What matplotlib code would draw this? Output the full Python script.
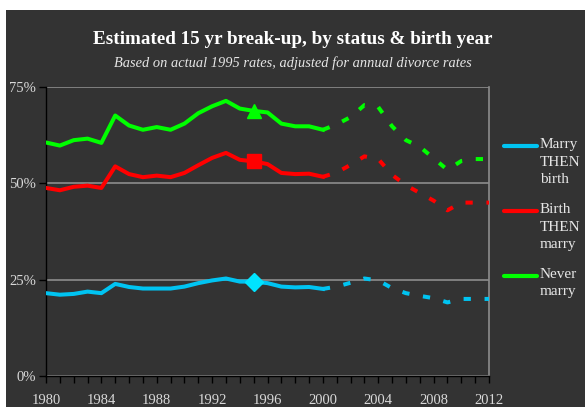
import matplotlib
matplotlib.use('Agg')
import matplotlib.pyplot as plt
from matplotlib.lines import Line2D
from matplotlib.patches import Rectangle
from matplotlib.ticker import MultipleLocator, FuncFormatter

# === Datos ===
years_actual = list(range(1980, 2001))
years_proj = list(range(2000, 2013))

marry_then_birth = [21.5, 21.1, 21.3, 21.9, 21.5, 23.9, 23.1, 22.7, 22.7, 22.7,
                    23.2, 24.1, 24.8, 25.3, 24.5, 24.5, 24.1, 23.2, 23.0, 23.1, 22.6]
birth_then_marry = [48.8, 48.2, 49.1, 49.4, 48.8, 54.4, 52.4, 51.6, 52.0, 51.6,
                    52.7, 54.7, 56.6, 57.9, 56.1, 55.7, 55.0, 52.7, 52.4, 52.5, 51.7]
never_marry = [60.6, 59.8, 61.2, 61.6, 60.5, 67.6, 65.0, 63.9, 64.6, 63.9,
               65.5, 68.2, 70.0, 71.4, 69.4, 68.8, 68.4, 65.5, 64.8, 64.8, 63.9]

marry_then_birth_proj = [22.6, 23.2, 24.2, 25.3, 24.8, 22.8, 21.5, 20.8, 20.2, 19.1, 20.0, 20.0, 20.0]
birth_then_marry_proj = [51.7, 52.8, 54.8, 57.0, 56.3, 52.2, 49.5, 47.5, 45.5, 43.0, 45.0, 45.0, 45.0]
never_marry_proj = [63.9, 65.3, 67.2, 70.3, 69.8, 64.8, 61.2, 59.5, 56.5, 53.5, 55.8, 56.3, 56.3]

marker_year = 1995
series_names = ['Marry\nTHEN\nbirth', 'Birth\nTHEN\nmarry', 'Never\nmarry']
colores = ['#00C4F2', '#FF0000', '#00FF00']
marcadores = ['D', 's', '^']
marker_colores = ['#00E4FF', '#FF0000', '#00FF00']

BG = '#333333'
SERIF = ['Liberation Serif', 'DejaVu Serif']

# === Figura ===
fig = plt.figure(figsize=(5.86, 4.07), dpi=100, facecolor='white')
fig.add_artist(Rectangle((6 / 586, 0), 579 / 586, 397 / 407, transform=fig.transFigure,
                         facecolor=BG, edgecolor='none', zorder=0))

ax = fig.add_axes([46 / 586, 1 - 376 / 407, 443 / 586, 289 / 407])
ax.set_facecolor(BG)

actual = [marry_then_birth, birth_then_marry, never_marry]
proj = [marry_then_birth_proj, birth_then_marry_proj, never_marry_proj]

for serie, serie_p, c, m, mc in zip(actual, proj, colores, marcadores, marker_colores):
    ax.plot(years_actual, serie, color=c, lw=2.9, solid_joinstyle='round', zorder=3)
    ax.plot(years_proj, serie_p, color=c, lw=2.9, dashes=(1.8, 3.4),
            dash_capstyle='butt', zorder=3)
    i = years_actual.index(marker_year)
    ms = {'D': 9, 's': 9.5, '^': 10.5}[m]
    ax.plot([marker_year], [serie[i]], marker=m, ms=ms, color=mc, mec=mc, zorder=4)

ax.set_xlim(1980, 2012)
ax.set_ylim(0, 75)
ax.yaxis.set_major_locator(MultipleLocator(25))
ax.yaxis.set_major_formatter(FuncFormatter(lambda v, p: f'{v:.0f}%'))
ax.xaxis.set_major_locator(MultipleLocator(4))
ax.xaxis.set_minor_locator(MultipleLocator(1))

ax.grid(axis='y', color='#8C8C8C', lw=1.2, zorder=1)
for s in ['left', 'bottom']:
    ax.spines[s].set_color('black')
    ax.spines[s].set_linewidth(1.0)
ax.spines['top'].set_visible(False)
ax.spines['right'].set_color('#8C8C8C')
ax.spines['right'].set_linewidth(1.2)

ax.tick_params(axis='both', which='both', direction='out', color='black',
               labelcolor='#D9D9D9', labelsize=10.5)
ax.tick_params(axis='x', which='both', length=5, width=1, pad=8)
ax.tick_params(axis='y', length=5, width=1, pad=2)
for lbl in ax.get_xticklabels() + ax.get_yticklabels():
    lbl.set_family(SERIF)

# === Titulos ===
fig.text(0.5, 1 - 40 / 407, 'Estimated 15 yr break-up, by status & birth year',
         ha='center', va='center', color='white', fontsize=13.8, fontweight='bold',
         family=SERIF)
fig.text(0.5, 1 - 63 / 407, 'Based on actual 1995 rates, adjusted for annual divorce rates',
         ha='center', va='center', color='#E6E6E6', fontsize=10.4, style='italic',
         family=SERIF)

# === Leyenda manual ===
legend_y = [146, 211, 276]
for name, c, y in zip(series_names, colores, legend_y):
    fy = 1 - y / 407
    fig.add_artist(Line2D([504 / 586, 537 / 586], [fy, fy], transform=fig.transFigure,
                          color=c, lw=3, solid_capstyle='round'))
    fig.text(540 / 586, 1 - (y - 8) / 407, name, ha='left', va='top', color='#E6E6E6',
             fontsize=11, family=SERIF, linespacing=1.45)

fig.savefig('out.png', dpi=100, facecolor='white')
